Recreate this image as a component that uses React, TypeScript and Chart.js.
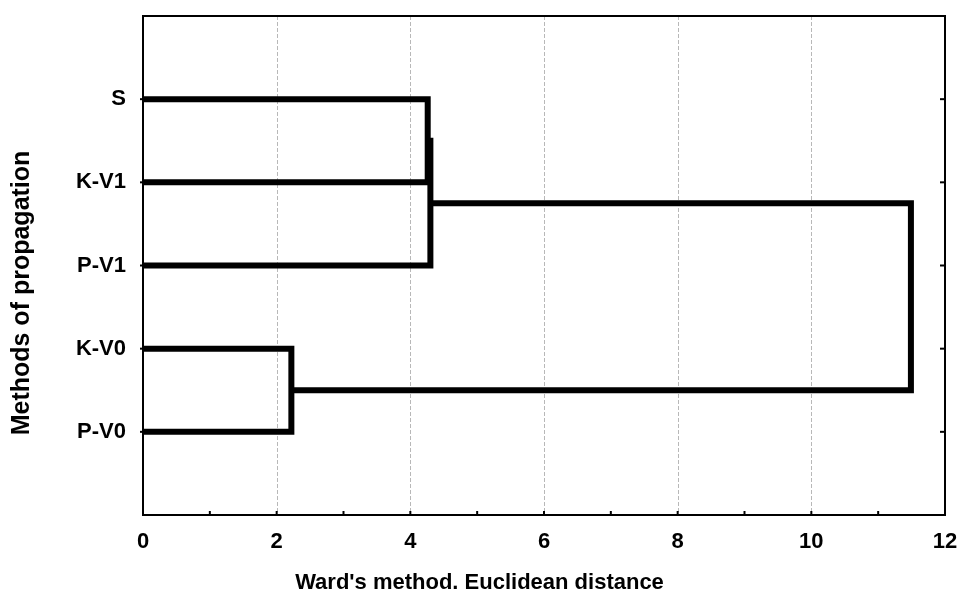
import React, { useEffect, useRef } from 'react';
import { Chart, registerables } from 'chart.js';

Chart.register(...registerables);

// ---- data ----
const leafLabels = ['S', 'K-V1', 'P-V1', 'K-V0', 'P-V0'];
// merges (leaves 0..4, clusters 5.. in merge order)
const mergeLeft = [0, 3, 5, 7];
const mergeRight = [1, 4, 2, 6];
const mergeHeight = [4.26, 2.22, 4.3, 11.49];
const xTickValues = [0, 2, 4, 6, 8, 10, 12];
const xTitle = "Ward's method. Euclidean distance";
const yTitle = 'Methods of propagation';

const FONT = '"Liberation Sans", Arial, Helvetica, sans-serif';

function buildLinks() {
  const pos: number[] = leafLabels.map((_, i) => i + 1);
  const hgt: number[] = leafLabels.map(() => 0);
  const links: { x: number; y: number }[][] = [];
  for (let k = 0; k < mergeHeight.length; k++) {
    const a = mergeLeft[k];
    const b = mergeRight[k];
    const h = mergeHeight[k];
    links.push([
      { x: hgt[a], y: pos[a] },
      { x: h, y: pos[a] },
      { x: h, y: pos[b] },
      { x: hgt[b], y: pos[b] },
    ]);
    pos.push((pos[a] + pos[b]) / 2);
    hgt.push(h);
  }
  return links;
}

const framePlugin = {
  id: 'frameDecor',
  beforeDatasetsDraw(chart: any) {
    const { ctx, chartArea: a, scales } = chart;
    const x = scales.x;
    ctx.save();
    ctx.strokeStyle = '#b8b8b8';
    ctx.lineWidth = 1;
    ctx.setLineDash([4, 2]);
    for (const v of xTickValues) {
      if (v <= x.min || v >= x.max) continue;
      const px = Math.round(x.getPixelForValue(v)) + 0.5;
      ctx.beginPath();
      ctx.moveTo(px, a.top);
      ctx.lineTo(px, a.bottom);
      ctx.stroke();
    }
    ctx.restore();
  },
  afterDraw(chart: any) {
    const { ctx, chartArea: a, scales } = chart;
    const x = scales.x;
    const y = scales.y;
    ctx.save();
    ctx.strokeStyle = '#000';
    ctx.lineWidth = 2;
    ctx.setLineDash([]);
    ctx.strokeRect(a.left, a.top, a.right - a.left, a.bottom - a.top);
    // bottom inward ticks every unit
    for (let v = x.min + 1; v < x.max; v++) {
      const px = x.getPixelForValue(v);
      ctx.beginPath();
      ctx.moveTo(px, a.bottom);
      ctx.lineTo(px, a.bottom - 4);
      ctx.stroke();
    }
    // right inward ticks and left outward ticks at categories
    for (let i = 0; i < leafLabels.length; i++) {
      const py = y.getPixelForValue(i + 1);
      ctx.beginPath();
      ctx.moveTo(a.right, py);
      ctx.lineTo(a.right - 5, py);
      ctx.stroke();
      ctx.beginPath();
      ctx.moveTo(a.left, py);
      ctx.lineTo(a.left - 3, py);
      ctx.stroke();
    }
    // titles
    ctx.fillStyle = '#000';
    ctx.font = `bold 22px ${FONT}`;
    ctx.textAlign = 'center';
    ctx.textBaseline = 'alphabetic';
    ctx.fillText(xTitle, chart.width / 2, 589);
    ctx.translate(22, 293);
    ctx.rotate(-Math.PI / 2);
    ctx.font = `bold 25px ${FONT}`;
    ctx.textBaseline = 'middle';
    ctx.fillText(yTitle, 0, 0);
    ctx.restore();
  },
};

export default function App() {
  const ref = useRef<HTMLCanvasElement | null>(null);
  useEffect(() => {
    if (!ref.current) return;
    const links = buildLinks();
    const chart = new Chart(ref.current, {
      type: 'scatter',
      data: {
        datasets: links.map((pts, i) => ({
          label: `link${i}`,
          data: pts,
          showLine: true,
          borderColor: '#000',
          backgroundColor: '#000',
          borderWidth: 6,
          pointRadius: 0,
          pointHoverRadius: 0,
          borderJoinStyle: 'miter' as const,
          borderCapStyle: 'butt' as const,
          tension: 0,
          clip: 10,
        })),
      },
      options: {
        responsive: false,
        animation: false,
        layout: { padding: { top: 16, right: 14, left: 0, bottom: 0 } },
        plugins: {
          legend: { display: false },
          tooltip: { enabled: false },
          title: { display: false },
        },
        scales: {
          x: {
            type: 'linear',
            min: 0,
            max: 12,
            grid: { display: false, drawTicks: false },
            border: { display: false },
            ticks: {
              stepSize: 2,
              color: '#000',
              padding: 14,
              maxRotation: 0,
              font: { family: FONT, size: 22, weight: 'bold' },
            },
            afterFit: (s: any) => {
              s.height = 76;
              s.paddingLeft = 0;
              s.paddingRight = 0;
            },
          },
          y: {
            type: 'linear',
            min: 0,
            max: 6,
            reverse: true,
            grid: { display: false, drawTicks: false },
            border: { display: false },
            ticks: {
              stepSize: 1,
              autoSkip: false,
              color: '#000',
              padding: 17,
              font: { family: FONT, size: 22, weight: 'bold' },
              callback: (v: any) => leafLabels[Number(v) - 1] ?? '',
            },
            afterFit: (s: any) => {
              s.width = 143;
              s.paddingTop = 0;
              s.paddingBottom = 0;
            },
          },
        },
      },
      plugins: [framePlugin],
    });
    return () => chart.destroy();
  }, []);
  return (
    <canvas
      ref={ref}
      width={959}
      height={591}
      style={{ position: 'absolute', left: 0, top: 0, width: 959, height: 591 }}
    />
  );
}
